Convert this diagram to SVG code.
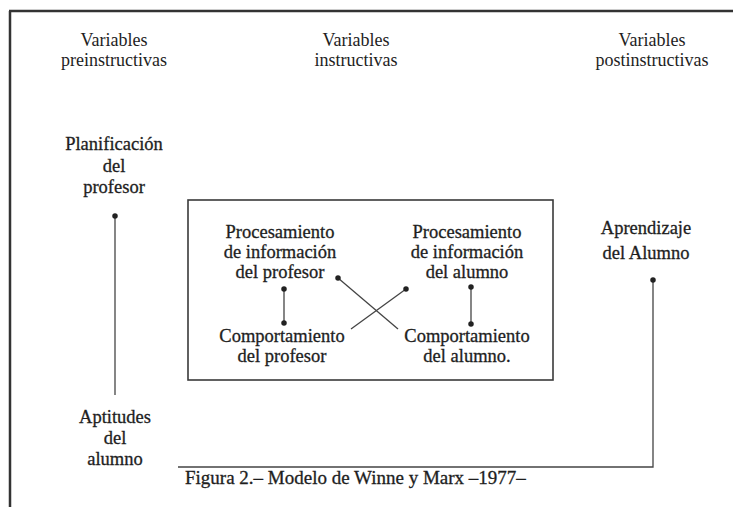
<svg xmlns="http://www.w3.org/2000/svg" width="733" height="507" viewBox="0 0 733 507">
  <style>
    text { font-family: "Liberation Serif", "Times New Roman", serif; fill: #1e1e1e; text-anchor: middle; }
    .hdr { font-size: 18px; fill: #2a2a2a; }
    .lbl { font-size: 18.5px; stroke: #1e1e1e; stroke-width: 0.3; }
    .cap { font-size: 19px; text-anchor: start; stroke: #1e1e1e; stroke-width: 0.3; }
    .frame { fill: none; stroke: #333; stroke-width: 2.5; }
    .box { fill: none; stroke: #3a3a3a; stroke-width: 1.6; }
    .link { fill: none; stroke: #444; stroke-width: 1.3; }
  </style>
  <defs>
    <marker id="dot" viewBox="0 0 6 6" refX="3" refY="3" markerWidth="5.5" markerHeight="5.5" markerUnits="userSpaceOnUse">
      <circle cx="3" cy="3" r="3" fill="#222"/>
    </marker>
  </defs>

  <rect width="733" height="507" fill="#fff"/>

  <!-- page frame -->
  <path class="frame" d="M9,11 H733 M10,11 V507"/>

  <!-- column headings -->
  <g id="hdr-pre" class="hdr">
    <text x="114" y="46">Variables</text>
    <text x="114" y="66">preinstructivas</text>
  </g>
  <g id="hdr-ins" class="hdr">
    <text x="356" y="46">Variables</text>
    <text x="356" y="66">instructivas</text>
  </g>
  <g id="hdr-post" class="hdr">
    <text x="652" y="46">Variables</text>
    <text x="652" y="66">postinstructivas</text>
  </g>

  <!-- nodes -->
  <g id="planificacion" class="lbl">
    <text x="114" y="150">Planificación</text>
    <text x="114" y="172">del</text>
    <text x="114" y="193">profesor</text>
  </g>
  <g id="aptitudes" class="lbl">
    <text x="115" y="423">Aptitudes</text>
    <text x="115" y="444">del</text>
    <text x="115" y="465">alumno</text>
  </g>
  <g id="instructivas">
    <rect class="box" x="188" y="200" width="365" height="180"/>
  </g>
  <g id="proc-profesor" class="lbl">
    <text x="280" y="238">Procesamiento</text>
    <text x="280" y="258">de información</text>
    <text x="280" y="278">del profesor</text>
  </g>
  <g id="proc-alumno" class="lbl">
    <text x="467" y="238">Procesamiento</text>
    <text x="467" y="258">de información</text>
    <text x="467" y="278">del alumno</text>
  </g>
  <g id="comp-profesor" class="lbl">
    <text x="282" y="342">Comportamiento</text>
    <text x="282" y="362">del profesor</text>
  </g>
  <g id="comp-alumno" class="lbl">
    <text x="467" y="342">Comportamiento</text>
    <text x="467" y="362">del alumno.</text>
  </g>
  <g id="aprendizaje" class="lbl">
    <text x="646" y="234">Aprendizaje</text>
    <text x="646" y="259">del Alumno</text>
  </g>

  <!-- connectors -->
  <g id="connectors" class="link">
    <path d="M115,395 V216" marker-end="url(#dot)"/>
    <path d="M284,289 V323" marker-start="url(#dot)" marker-end="url(#dot)"/>
    <path d="M471,287 V324" marker-start="url(#dot)" marker-end="url(#dot)"/>
    <path d="M398,329 L338,278" marker-end="url(#dot)"/>
    <path d="M351,329 L406,289" marker-end="url(#dot)"/>
    <path d="M178,467 H653 V280" marker-end="url(#dot)"/>
  </g>

  <!-- caption -->
  <text class="cap" x="185" y="484">Figura 2.– Modelo de Winne y Marx –1977–</text>
</svg>
